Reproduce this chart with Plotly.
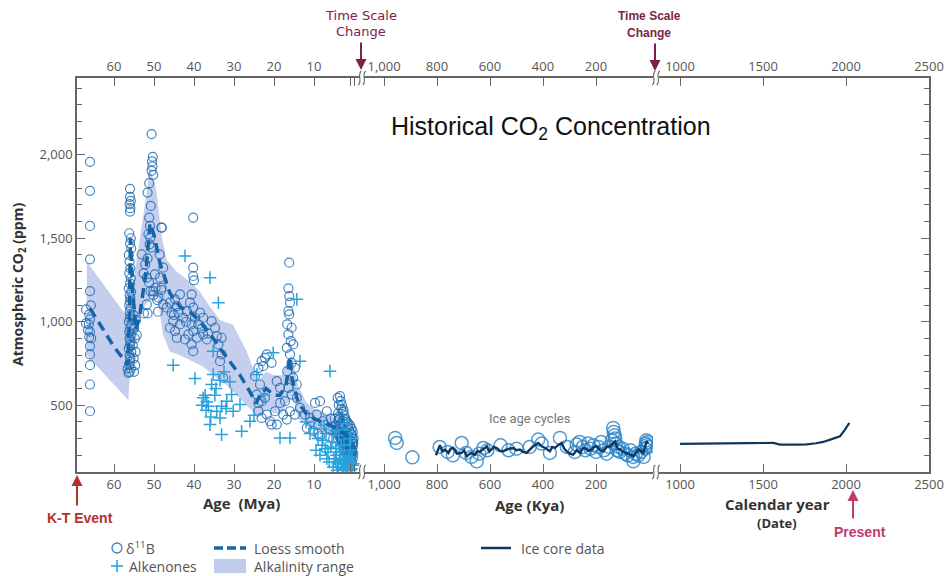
import plotly.graph_objects as go

# ---------------- DATA ----------------
# Segment 1: Million years ago (Mya)
d11b_mya = [66.0,66.0,66.0,66.0,66.0,65.8,67.0,66.2,66.0,67.0,66.3,66.0,66.2,66.0,66.0,66.0,66.0,66.0,66.5,65.7,
            56.0,56.0,55.8,56.1,55.9,56.0,
            56.2,55.8,56.0,55.7,56.3,56.1,55.9,56.2,55.8,56.0,56.3,55.7,56.1,55.9,56.0,56.2,55.8,56.1,55.9,56.0,
            56.3,55.7,56.0,56.2,55.8,56.1,55.9,56.0,56.3,55.7,56.1,55.9,56.0,56.2,55.8,56.1,
            55.2,55.0,54.8,55.3,54.6,55.1,54.7,55.0,54.5,54.3,56.4,56.6,53.1,52.6,
            50.6,50.3,50.5,50.4,50.6,50.2,51.2,51.6,50.8,51.2,51.0,51.4,50.9,51.1,50.7,51.6,52.2,51.8,51.2,51.8,
            50.9,49.8,49.6,48.1,48.6,49.2,50.2,52.5,51.6,49.0,48.2,50.2,48.5,48.1,48.9,47.7,48.1,
            47.7,46.8,46.0,44.75,44.3,45.6,45.2,43.9,43.5,46.0,44.75,43.5,42.7,41.8,41.0,40.6,40.2,39.75,40.6,41.4,
            40.2,39.3,40.6,40.2,42.25,38.9,38.5,37.7,36.8,35.6,34.75,34.3,33.1,33.9,33.1,33.5,32.7,40.2,40.2,40.0,
            40.2,37.7,44.3,42.0,45.0,38.0,36.5,
            24.75,23.9,23.1,22.25,22.7,21.8,20.6,23.5,24.3,23.1,23.9,23.1,21.8,21.0,22.25,23.9,19.3,18.5,19.75,20.6,
            17.7,18.5,
            16.2,16.4,16.2,16.0,16.4,16.2,16.7,15.6,16.4,15.8,15.2,16.8,16.0,15.6,14.75,16.7,15.2,14.3,16.4,15.6,
            14.3,17.25,13.5,16.0,14.75,16.8,19.3,
            12.25,11.0,9.75,8.5,9.3,11.8,10.2,7.7,6.8,8.5,6.4,5.8,7.2,9.0,10.8,6.0,5.2,
            3.5,3.3,3.0,2.6,4.0,3.8,2.2,1.8,1.4,1.0,0.6,0.3,3.2,2.8,2.4,2.0,1.6,1.2,0.8,0.5,
            3.6,3.1,2.7,2.3,1.9,1.5,1.1,0.7,0.4,2.9,2.5,2.1,1.7,1.3,0.9,0.6,3.4,2.6,1.4,0.2,
            4.8,4.6,4.4,4.2,4.0,3.9,3.7,3.5,3.3,3.1,2.9,2.7,2.5,2.3,2.1,1.9,1.7,1.5,1.3,1.1,
            0.9,0.7,0.5,0.3,0.2,0.1,0.4,0.6,0.8,1.0,1.2,1.4,1.6,1.8,2.0,2.2,2.4,2.6,2.8,3.0,
            3.2,3.4,3.6,0.3,0.5,0.7,0.9,1.1,0.2,0.4,4.1,3.8]
d11b_ppm = [1958,1784,1574,1374,1184,1098,1074,1044,1014,990,984,940,908,854,804,740,624,464,950,900,
            1796,1748,1724,1704,1680,1660,
            1530,1500,1470,1440,1400,1360,1320,1290,1260,1230,1200,1180,1160,1140,1120,1100,1080,1060,1040,1020,
            1000,980,960,940,920,900,880,860,840,820,800,780,760,740,720,700,
            1040,960,900,860,820,780,740,700,1010,920,694,720,1404,1290,
            2124,1988,1960,1930,1904,1880,1830,1774,1694,1624,1574,1524,1504,1464,1444,1380,1344,1264,1234,1104,
            1184,1284,1204,1564,1404,1130,1160,1050,1050,1060,1190,1184,1264,1204,1144,1324,1564,
            1104,1084,1114,1134,1094,1054,1004,1054,1164,964,944,984,1024,1064,1114,1164,1084,1024,984,924,
            944,904,864,824,894,984,1054,1024,894,1004,964,914,904,864,804,764,664,1324,1274,1248,
            1624,924,904,1000,1040,960,930,
            674,724,764,784,734,804,754,624,564,524,464,424,444,404,544,514,644,604,464,384,
            444,514,
            1354,1200,1154,1114,1064,1044,984,964,924,884,864,844,804,754,724,704,664,624,604,564,
            544,524,484,464,444,414,384,
            444,424,514,524,444,364,344,404,464,314,364,420,380,330,400,350,300,
            554,524,500,470,450,430,420,400,390,380,360,340,480,460,440,410,370,350,330,300,
            310,290,280,270,260,250,240,230,220,300,320,300,280,260,250,240,200,180,190,270,
            420,380,350,330,300,410,370,330,300,280,260,390,350,320,290,270,250,230,210,200,
            190,210,230,250,280,300,320,200,180,260,240,300,320,200,220,240,260,230,300,330,
            360,390,420,180,160,150,250,290,210,270,544,500]

alk_mya = [42.25,36.0,33.9,45.2,39.75,35.2,35.2,35.6,37.7,37.2,36.4,34.3,33.1,31.8,30.6,30.2,36.0,33.5,33.1,28.1,
           28.5,26.0,34.5,33.5,32.5,31.0,37.0,34.8,20.2,13.5,14.3,6.0,18.5,16.0,24.3,22.5,25.0,12.0,10.0,9.0,
           8.0,7.5,7.0,6.5,5.5,5.0,4.5,4.0,3.5,3.0,2.5,2.0,1.5,1.0,0.8,0.5,3.8,2.8,1.8,6.8,
           5.2,4.2,2.2,9.5,11.0,3.2,36.8,38.0,35.8,32.0,4.8,1.2,2.6,0.3,7.8,
           4.6,3.9,3.3,2.7,2.3,1.6,1.1,0.6,0.2,5.8,6.2,7.2,8.5,4.4,1.4,0.9,2.0,3.6]
alk_ppm = [1394,1264,1114,740,660,824,684,624,544,560,494,464,494,524,564,464,384,424,324,344,
           504,404,600,650,700,640,470,560,814,764,1134,704,304,304,684,560,440,400,360,300,
           260,380,330,220,280,180,240,150,200,120,260,180,140,230,300,190,320,350,390,180,
           130,110,110,230,330,260,520,500,430,480,350,300,160,140,290,
           160,130,170,120,150,110,160,120,150,250,160,240,200,200,190,110,130,220]

loess_mya = [66,63,60,56.5,56.2,55.9,55.4,54.5,53.5,52,51,50,48.5,46,43.5,41,38.5,36,33.5,31,28.5,26,24.5,
             23.5,22,20,18.5,17,16,15.5,14,12,10,8,6,4,2,0.5]
loess_ppm = [1080,960,850,740,1000,1500,1200,950,1050,1300,1590,1520,1350,1170,1090,1060,1000,930,840,760,680,580,
             510,560,600,560,560,620,790,660,520,450,420,400,380,360,320,290]

band_mya = [66.8,56.4,56.0,55.0,53.5,52.0,51.0,49.5,48.0,46.8,44.3,41.0,38.5,36.0,33.5,30.2,26.8,24.0,22.0,20.0,
            18.0,16.5,15.5,14.0,12.0,10.0,8.0,6.0,4.0,2.0,0.5]
band_upper = [1360,1020,1100,1250,1500,1750,1920,1800,1500,1370,1300,1240,1180,1090,1010,980,820,640,700,680,
              680,780,800,620,520,480,460,440,410,380,350]
band_lower_mya = [66.8,56.4,56.0,55.0,53.0,52.2,49.3,47.7,46.0,43.5,40.2,37.7,35.2,31.8,28.5,25.2,24.0,22.0,20.0,
                  18.0,16.5,15.5,14.0,12.0,10.0,8.0,6.0,4.0,2.0,0.5]
band_lower = [800,530,700,850,1050,1100,1160,920,820,800,760,730,680,620,540,460,420,480,450,
              450,520,560,420,380,360,340,320,300,270,240]

# Segment 2: thousand years ago (Kya)
ice_kya = [804,789,780,770,757,748,738,725,707,698,688,672,657,647,638,625,612,603,594,585,575,562,550,531,512,500,
           487,475,462,450,437,418,405,392,383,374,365,355,342,330,320,311,298,286,273,260,251,242,229,216,207,197,
           185,172,160,147,138,128,118,109,97,84,72,59,50,40,31,22,15,9,3]
ice_ppm = [200,260,225,234,214,240,244,210,214,230,194,215,204,226,220,238,254,222,234,250,244,226,224,238,244,230,
           234,220,214,236,254,274,254,244,232,224,250,244,262,274,240,224,210,204,230,214,238,244,226,234,250,254,
           230,224,250,254,270,284,240,234,220,214,205,194,215,234,226,214,250,284,270]

core_kya = [958,952,893,790,760,740,707,690,670,650,640,625,610,560,530,500,450,418,405,374,336,310,280,273,262,
            250,240,230,220,210,200,190,180,170,160,150,140,135,133,130,128,125,120,115,110,100,90,80,70,60,59,50,
            40,30,20,15,12,10,8,5,3]
core_ppm = [304,274,188,250,220,200,274,214,190,164,210,244,230,260,230,240,250,294,270,214,304,250,220,264,280,
            250,230,270,240,260,220,250,280,230,210,250,290,364,340,320,300,270,230,250,220,240,210,200,230,190,164,
            210,200,220,190,240,270,290,260,280,250]

# Segment 3: calendar year
cal_year = [1000,1100,1261,1400,1562,1602,1700,1763,1820,1863,1923,1964,1994,2020]
cal_ppm = [268,270,272,273,274,264,264,265,272,280,300,314,354,394]

mya_ticks = [60, 50, 40, 30, 20, 10, 1, 0]
mya_text = ["60", "50", "40", "30", "20", "10", "", ""]
kya_ticks = [1000, 800, 600, 400, 200]
kya_text = ["1,000", "800", "600", "400", "200"]
yr_ticks = [1000, 1500, 2000, 2500]
yr_text = ["1000", "1500", "2000", "2500"]
ppm_ticks = [500, 1000, 1500, 2000]

# ---------------- LAYOUT HELPERS ----------------
L, T, W, H = 77, 78, 852, 394


def px(x):
    return (x - L) / W


def py(y):
    return (T + H - y) / H


AX = "#666666"
TICKFONT = dict(family="Open Sans", size=13, color="#555555")

fig = go.Figure()

# Segment 1 traces
fig.add_trace(go.Scatter(x=band_mya, y=band_upper, mode="lines", line=dict(width=0),
                         xaxis="x", yaxis="y", hoverinfo="skip"))
fig.add_trace(go.Scatter(x=band_lower_mya, y=band_lower, mode="lines", line=dict(width=0),
                         fill="tonexty", fillcolor="rgba(150,168,222,0.55)", xaxis="x", yaxis="y",
                         hoverinfo="skip"))
fig.add_trace(go.Scatter(x=d11b_mya, y=d11b_ppm, mode="markers", xaxis="x", yaxis="y",
                         marker=dict(symbol="circle-open", size=9, color="rgba(25,105,178,0.8)",
                                     line=dict(width=1.2))))
fig.add_trace(go.Scatter(x=alk_mya, y=alk_ppm, mode="markers", xaxis="x", yaxis="y",
                         marker=dict(symbol="cross-thin", size=9,
                                     line=dict(width=1.5, color="#29a3dc"))))
fig.add_trace(go.Scatter(x=loess_mya, y=loess_ppm, mode="lines", xaxis="x", yaxis="y",
                         line=dict(color="#1565a8", width=3.5, dash="10px,6px")))

# Segment 2 traces
fig.add_trace(go.Scatter(x=core_kya, y=core_ppm, mode="markers", xaxis="x2", yaxis="y",
                         marker=dict(symbol="circle-open", size=13, color="rgba(40,130,200,0.8)",
                                     line=dict(width=1.5))))
fig.add_trace(go.Scatter(x=ice_kya, y=ice_ppm, mode="lines", xaxis="x2", yaxis="y",
                         line=dict(color="#10385e", width=2.4)))

# Segment 3 trace
fig.add_trace(go.Scatter(x=cal_year, y=cal_ppm, mode="lines", xaxis="x3", yaxis="y",
                         line=dict(color="#10385e", width=2.2)))

# invisible traces to anchor top/right axes
for xa in ["x4", "x5", "x6"]:
    fig.add_trace(go.Scatter(x=[None], y=[None], xaxis=xa, yaxis="y", hoverinfo="skip"))
fig.add_trace(go.Scatter(x=[None], y=[None], xaxis="x3", yaxis="y2", hoverinfo="skip"))

dom1 = [0, px(360)]
dom2 = [px(364), px(653)]
dom3 = [px(659), 1]
r1 = [69.25, -1.5]
r2 = [1075.5, -15.1]
r3 = [873.5, 2500]


def xax(dom, rng, tv, tt, side="bottom", overlay=None):
    d = dict(domain=dom, range=rng, tickmode="array", tickvals=tv, ticktext=tt, side=side,
             showline=True, linecolor=AX, linewidth=1.5, ticks="inside", ticklen=8, tickwidth=1.3,
             tickcolor=AX, showgrid=False, zeroline=False, tickfont=TICKFONT, anchor="y", fixedrange=True,
             automargin=False)
    if overlay:
        d["overlaying"] = overlay
    return d


ymain = dict(range=[100, 2460], tickmode="array", tickvals=ppm_ticks, tickformat=",", showline=True,
             linecolor=AX, linewidth=1.5, ticks="inside", ticklen=8, tickwidth=1.3, tickcolor=AX,
             showgrid=False, zeroline=False, tickfont=TICKFONT, anchor="x", automargin=False,
             minor=dict(dtick=100, tick0=0, ticks="inside", ticklen=5, tickcolor=AX, showgrid=False))

fig.update_layout(
    width=945, height=576, margin=dict(l=L, r=945 - L - W, t=T, b=576 - T - H, autoexpand=False),
    paper_bgcolor="white", plot_bgcolor="white", showlegend=False, hovermode=False,
    xaxis=xax(dom1, r1, mya_ticks, mya_text),
    xaxis2=xax(dom2, r2, kya_ticks, kya_text),
    xaxis3=xax(dom3, r3, yr_ticks, yr_text),
    xaxis4=xax(dom1, r1, mya_ticks, mya_text, side="top", overlay="x"),
    xaxis5=xax(dom2, r2, kya_ticks, kya_text, side="top", overlay="x2"),
    xaxis6=xax(dom3, r3, yr_ticks, yr_text, side="top", overlay="x3"),
    yaxis=ymain,
    yaxis2=dict(range=[100, 2460], overlaying="y", side="right", anchor="x3", showline=True,
                linecolor=AX, linewidth=1.5, tickmode="array", tickvals=ppm_ticks, ticks="inside",
                ticklen=8, tickwidth=1.3, tickcolor=AX, showticklabels=False, showgrid=False,
                zeroline=False, automargin=False,
                minor=dict(dtick=100, tick0=0, ticks="inside", ticklen=5, tickcolor=AX, showgrid=False)),
)

shapes = []
# axis break marks
for bx in [362, 656]:
    for by in [T, T + H]:
        for off in [-2.2, 2.2]:
            shapes.append(dict(type="path", xref="paper", yref="paper",
                               path=f"M {px(bx+off+1.5)},{py(by-7)} C {px(bx+off-3)},{py(by-3)} "
                                    f"{px(bx+off+3)},{py(by+3)} {px(bx+off-1.5)},{py(by+7)}",
                               line=dict(color=AX, width=1.1)))

# custom legend
shapes.append(dict(type="circle", xref="paper", yref="paper", xsizemode="pixel", ysizemode="pixel",
                   xanchor=px(117), yanchor=py(548), x0=-5, x1=5, y0=-5, y1=5,
                   line=dict(color="rgba(40,120,190,0.9)", width=1.3)))
shapes.append(dict(type="line", xref="paper", yref="paper", x0=px(111), x1=px(123), y0=py(566), y1=py(566),
                   line=dict(color="#29a3dc", width=1.6)))
shapes.append(dict(type="line", xref="paper", yref="paper", x0=px(117), x1=px(117), y0=py(560), y1=py(572),
                   line=dict(color="#29a3dc", width=1.6)))
shapes.append(dict(type="line", xref="paper", yref="paper", x0=px(214), x1=px(246), y0=py(548), y1=py(548),
                   line=dict(color="#1565a8", width=3.5, dash="9px,4px")))
shapes.append(dict(type="rect", xref="paper", yref="paper", x0=px(214), x1=px(246), y0=py(559), y1=py(573),
                   fillcolor="rgba(150,168,222,0.6)", line=dict(width=0)))
shapes.append(dict(type="line", xref="paper", yref="paper", x0=px(481), x1=px(511), y0=py(548), y1=py(548),
                   line=dict(color="#10385e", width=2.5)))

ann = []


def text(x, y, s, size=13, color="#555555", bold=False, xanchor="center", family="Open Sans", angle=0):
    ann.append(dict(x=px(x), y=py(y), xref="paper", yref="paper", text=s, showarrow=False,
                    xanchor=xanchor, yanchor="middle", textangle=angle,
                    font=dict(family=family, size=size, color=color, weight="bold" if bold else "normal")))


def arrow(x, y_head, y_tail, color, width=2):
    ann.append(dict(x=px(x), y=py(y_head), xref="paper", yref="paper", text="", showarrow=True,
                    ax=0, ay=y_tail - y_head, arrowhead=2, arrowsize=1.1, arrowwidth=width, arrowcolor=color))


text(124, 548, "δ<sup>11</sup>B", size=14, xanchor="left")
text(127, 566, "Alkenones", size=14, xanchor="left")
text(252, 548, "Loess smooth", size=14, xanchor="left")
text(252, 566, "Alkalinity range", size=14, xanchor="left")
text(519, 548, "Ice core data", size=14, xanchor="left")

text(18, 285, "Atmospheric CO<sub>2</sub> (ppm)", size=14, color="#333333", bold=True, angle=-90)
text(551, 128, "Historical CO<sub>2</sub> Concentration", size=25, color="#111111", family="Liberation Sans")
text(530, 418, "Ice age cycles", size=13, color="#777777", family="Roboto")
text(241, 503, "Age  (Mya)", size=15, color="#333333", bold=True)
text(529, 505, "Age (Kya)", size=15, color="#333333", bold=True)
text(777, 504, "Calendar year", size=15, color="#333333", bold=True)
text(777, 523, "(Date)", size=13, color="#333333", bold=True)

text(361, 15, "Time Scale", size=13, color="#7d2248", family="DejaVu Sans")
text(361, 32, "Change", size=13, color="#7d2248", family="DejaVu Sans")
arrow(361, 70, 41, "#7d2248")
text(649, 16, "Time Scale", size=12, color="#7d1f4d", bold=True, family="Liberation Sans")
text(649, 33, "Change", size=12, color="#7d1f4d", bold=True, family="Liberation Sans")
arrow(655, 71, 42, "#7d1f4d")

text(80, 518, "K-T Event", size=14, color="#b5322a", bold=True, family="Liberation Sans")
arrow(77, 475, 507, "#b5322a")
text(860, 532, "Present", size=14, color="#c2386f", bold=True, family="Liberation Sans")
arrow(853, 490, 520, "#c2386f")

fig.update_layout(shapes=shapes, annotations=ann)
fig.write_html("out.html")
